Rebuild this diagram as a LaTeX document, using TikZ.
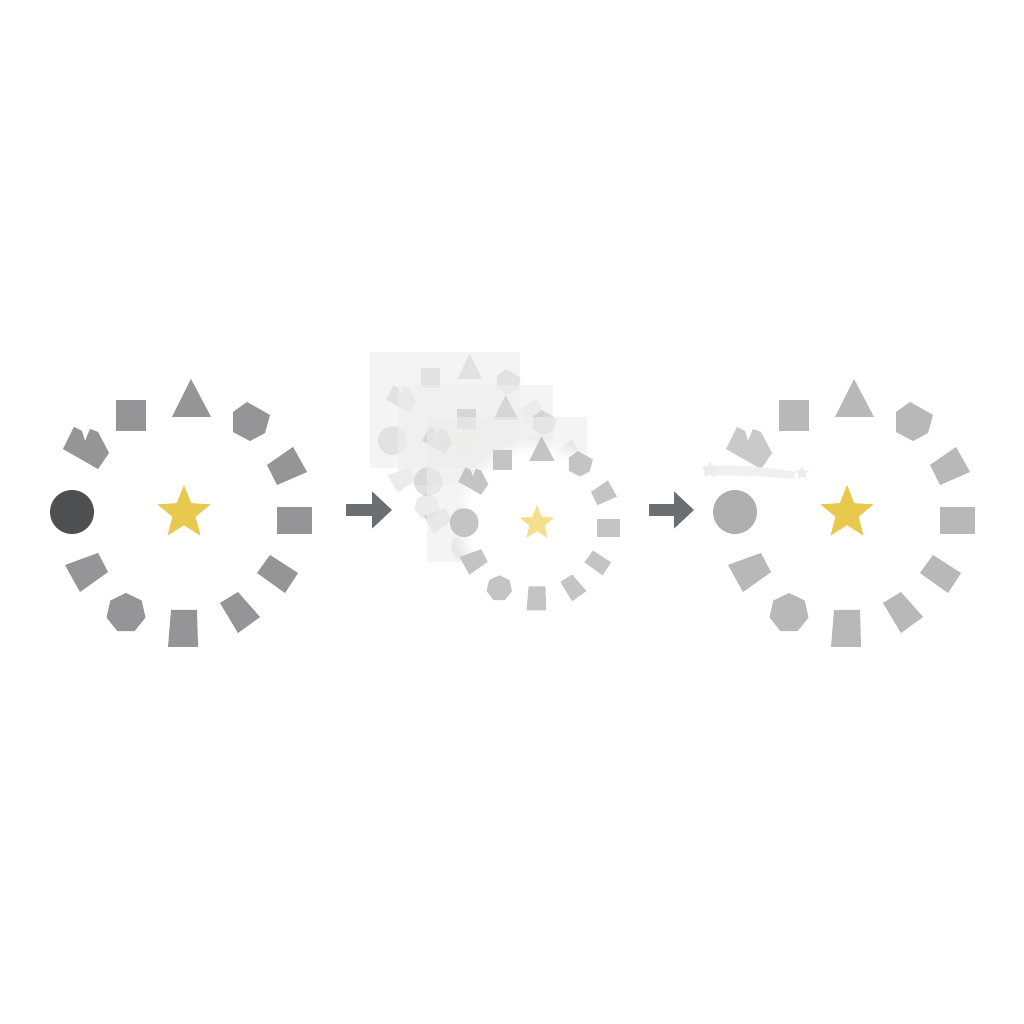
\documentclass[tikz,border=0pt]{standalone}
\usetikzlibrary{shapes.geometric,arrows.meta,fadings}

\definecolor{shapegray}{RGB}{149,149,151}
\definecolor{dotdark}{RGB}{78,79,81}
\definecolor{stargold}{RGB}{233,200,78}
\definecolor{paleyellow}{RGB}{245,222,140}
\definecolor{lightgray}{RGB}{184,184,185}
\definecolor{midgray}{RGB}{196,196,197}
\definecolor{arrowgray}{RGB}{108,111,113}
\definecolor{ghostfill}{RGB}{238,238,238}

% one ring of twelve shapes round a star, drawn about the origin
\newcommand{\shapering}[3]{%
  \begin{scope}[shift={#2},#3]
    \fill[ringdot] (-112,-1) circle[radius=22];
    \fill[ringcrown] (-121,62) -- (-110,84) -- (-102,80) -- (-99,70) -- (-94,82) -- (-86,79) -- (-75,58) -- (-86,42) -- cycle;
    \fill[ringshape] (-68,80) rectangle (-38,111);
    \fill[ringshape] (7,132) -- (-12,94) -- (27,94) -- cycle;
    \fill[ringshape] (49,99) -- (63,109) -- (86,96) -- (81,78) -- (66,70) -- (49,79) -- cycle;
    \fill[ringshape] (83,46) -- (109,64) -- (123,39) -- (93,26) -- cycle;
    \fill[ringshape] (93,4) rectangle (128,-23);
    \fill[ringshape] (73,-62) -- (86,-44) -- (114,-62) -- (101,-82) -- cycle;
    \fill[ringshape] (36,-92) -- (54,-81) -- (76,-106) -- (54,-122) -- cycle;
    \fill[ringshape] (-13,-99) -- (13,-99) -- (14,-136) -- (-16,-136) -- cycle;
    \node[ringshape,regular polygon,regular polygon sides=7,minimum size=.8cm,inner sep=0,transform shape] (#1-hept) at (-58,-102) {};
    \fill[ringshape] (-119,-54) -- (-86,-42) -- (-76,-61) -- (-104,-81) -- cycle;
    \node[ringstar,star,star points=5,star point ratio=2.3,minimum size=1.12cm,inner sep=0,transform shape] (#1-star) at (0,-2) {};
  \end{scope}}

\begin{document}
\begin{tikzpicture}[x=0.02cm,y=0.02cm,
    ringshape/.style={fill=shapegray},
    ringcrown/.style={ringshape},
    ringdot/.style={fill=dotdark},
    ringstar/.style={fill=stargold},
    ghostrect/.style={fill=ghostfill,opacity=.6},
    flow/.style={line width=.24cm,arrowgray,-{Triangle[length=.4cm,width=.72cm]}}]
  \useasboundingbox[fill=white] (0,0) rectangle (1024,1024);

  % before
  \shapering{before}{(184,513)}{}

  % during: stacked ghost frames
  \fill[ghostrect] (370,556) rectangle (520,672);
  \shapering{ghostA}{(465,584)}{scale=.65,opacity=.18,
    ringshape/.style={fill=shapegray},ringdot/.style={fill=shapegray},ringstar/.style={fill=stargold}}
  \fill[ghostrect] (398,539) rectangle (553,639);
  \shapering{ghostB}{(501,543)}{scale=.65,opacity=.28,
    ringshape/.style={fill=shapegray},ringdot/.style={fill=shapegray},ringstar/.style={fill=stargold}}
  \fill[ghostrect] (427,462) rectangle (587,607);
  \fill[white,path fading=circle with fuzzy edge 20 percent] (537,502) circle[radius=85];
  \shapering{during}{(537,502)}{scale=.65,
    ringshape/.style={fill=midgray},ringdot/.style={fill=midgray},ringstar/.style={fill=paleyellow}}

  % after
  \shapering{after}{(847,513)}{
    ringshape/.style={fill=lightgray},ringcrown/.style={fill=lightgray,opacity=.75},
    ringdot/.style={fill=lightgray!95!black},ringstar/.style={fill=stargold}}
  \fill[gray!12] (704,558) .. controls (740,560) and (770,556) .. (795,552) -- (795,545) .. controls (760,548) .. (704,549) -- cycle;
  \node[star,star points=5,star point ratio=2.2,minimum size=.36cm,inner sep=0,fill=gray!15] (smearA) at (710,554) {};
  \node[star,star points=5,star point ratio=2.2,minimum size=.3cm,inner sep=0,fill=gray!15] (smearB) at (802,551) {};

  % arrows between the panels
  \coordinate (before-out) at (346,514);
  \coordinate (during-in) at (392,514);
  \coordinate (during-out) at (649,514);
  \coordinate (after-in) at (694,514);
  \draw[flow] (before-out) -- (during-in);
  \draw[flow] (during-out) -- (after-in);
\end{tikzpicture}
\end{document}
